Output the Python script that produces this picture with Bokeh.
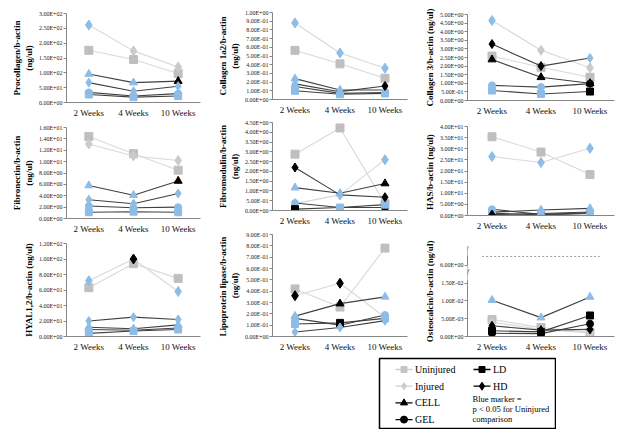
import numpy as np
from bokeh.plotting import figure
from bokeh.models import (ColumnDataSource, FactorRange, Range1d, FixedTicker,
                          CustomJSTickFormatter, Label, Spacer)
from bokeh.layouts import column, row
from bokeh.embed import file_html
from bokeh.resources import INLINE
from bokeh.core.properties import value

weeks = ["2 Weeks", "4 Weeks", "10 Weeks"]
groups = ["Uninjured", "Injured", "CELL", "GEL", "LD", "HD"]

# rows follow `groups`; sig: 0 = default marker, 1 = blue (p<0.05), 2 = dark marker
procollagen = [[176, 145, 98], [261, 174, 120], [96, 67, 72], [34, 22, 30], [27, 18, 22], [67, 38, 55]]
procollagen_sig = [[0, 0, 0], [1, 0, 0], [1, 1, 0], [1, 1, 1], [1, 1, 1], [1, 1, 1]]

collagen1a2 = [[0.565, 0.41, 0.245], [0.88, 0.535, 0.36], [0.24, 0.11, 0.11], [0.15, 0.07, 0.08], [0.10, 0.06, 0.07], [0.18, 0.09, 0.155]]
collagen1a2_sig = [[0, 0, 0], [1, 1, 1], [1, 1, 1], [1, 1, 1], [1, 1, 1], [1, 1, 0]]

collagen3 = [[2.58, 1.93, 1.35], [4.65, 2.92, 1.90], [2.38, 1.35, 1.00], [0.88, 0.78, 0.98], [0.58, 0.38, 0.52], [3.28, 2.00, 2.47]]
collagen3_sig = [[0, 0, 0], [1, 0, 0], [0, 0, 0], [1, 1, 0], [1, 1, 0], [0, 0, 1]]

fibronectin = [[14.4, 11.4, 8.5], [13.1, 11.0, 10.2], [5.8, 4.1, 6.6], [2.2, 1.9, 2.0], [1.1, 1.2, 1.1], [3.3, 2.6, 4.4]]
fibronectin_sig = [[0, 0, 0], [0, 0, 0], [1, 1, 0], [1, 1, 1], [1, 1, 1], [1, 1, 1]]

fibromodulin = [[2.88, 4.22, 0.35], [0.35, 0.80, 2.60], [1.17, 0.88, 1.38], [0.38, 0.15, 0.15], [0.07, 0.15, 0.30], [2.20, 0.80, 0.68]]
fibromodulin_sig = [[0, 0, 0], [1, 1, 1], [1, 1, 0], [1, 1, 0], [0, 1, 1], [0, 1, 0]]

has = [[35.4, 28.5, 18.4], [26.5, 23.8, 30.2], [1.5, 2.5, 3.2], [2.8, 0.5, 1.2], [1.0, 0.3, 0.9], [0.4, 0.9, 1.6]]
has_sig = [[0, 0, 0], [1, 1, 1], [1, 1, 1], [1, 1, 1], [1, 1, 1], [0, 1, 1]]

hyal = [[63, 94, 75], [72, 100, 58], [12, 10, 15], [9, 8, 11], [4, 7, 9], [20, 25, 22]]
hyal_sig = [[0, 0, 0], [1, 2, 1], [1, 1, 1], [1, 1, 1], [1, 1, 1], [1, 1, 1]]

lipoprotein = [[0.42, 0.26, 0.78], [0.36, 0.47, 0.17], [0.18, 0.29, 0.35], [0.16, 0.10, 0.19], [0.11, 0.12, 0.16], [0.04, 0.08, 0.14]]
lipoprotein_sig = [[0, 0, 0], [2, 2, 1], [1, 0, 1], [1, 0, 1], [1, 0, 1], [1, 1, 1]]

osteocalcin = [[0.0048, 0.0025, 0.0012], [0.0040, 0.0020, 0.0010], [0.0102, 0.0053, 0.0111], [0.0009, 0.0008, 0.0036], [0.0016, 0.0013, 0.0059], [0.0030, 0.0018, 0.0020]]
osteocalcin_sig = [[0, 0, 0], [0, 0, 0], [1, 1, 1], [0, 0, 0], [0, 0, 0], [0, 0, 0]]
osteocalcin_upper_ticks = [6.0]

titles = ["Procollagen/b-actin\n(ng/ul)", "Collagen 1a2/b-actin\n(ng/ul)", "Collagen 3/b-actin (ng/ul)",
          "Fibronectin/b-actin\n(ng/ul)", "Fibromodulin/b-actin\n(ng/ul)", "HAS/b-actin  (ng/ul)",
          "HYAL1,2/b-actin (ng/ul)", "Lipoprotein  lipase/b-actin\n(ng/ul)", "Osteocalcin/b-actin (ng/ul)"]
axis_max = [300, 1.0, 5.0, 16, 4.5, 40, 120, 0.9, 0.015]
axis_step = [50, 0.1, 0.5, 2, 0.5, 5, 20, 0.1, 0.005]

legend_left = ["Uninjured", "Injured", "CELL", "GEL"]
legend_right = ["LD", "HD"]
note = ["Blue marker  =", "p < 0.05  for Uninjured", "comparison"]

SERIF = "Liberation Serif"
LIGHT_LINE = "#d9d9d9"
DARK_LINE = "#404040"
BLUE = "#8dbde6"
AXIS = "#868686"
style = {
    "Uninjured": dict(marker="square", size=8, line=LIGHT_LINE, mk="#bfbfbf"),
    "Injured": dict(marker="diamond", size=10, line=LIGHT_LINE, mk="#cbcbcb"),
    "CELL": dict(marker="triangle", size=8, line=DARK_LINE, mk="#000000"),
    "GEL": dict(marker="circle", size=7, line=DARK_LINE, mk="#000000"),
    "LD": dict(marker="square", size=7, line=DARK_LINE, mk="#000000"),
    "HD": dict(marker="diamond", size=9, line=DARK_LINE, mk="#000000"),
}

FMT_CODE = """
let v = tick;
if (tick > brk) { v = up_val + (tick - up_pos) / up_scale; }
let s = v.toExponential(2).toUpperCase();
const i = s.indexOf("E");
const mant = s.slice(0, i);
const sign = s[i + 1];
let d = s.slice(i + 2);
if (d.length < 2) { d = "0" + d; }
return mant + "E" + sign + d;
"""


def panel(k, vals, sig, w, h, bl, br, bt, bb, broken=None):
    ymax = axis_max[k]
    step = axis_step[k]
    ticks = list(np.round(np.arange(0, ymax + step / 2, step), 10))
    fargs = dict(brk=1e30, up_val=0.0, up_pos=0.0, up_scale=1.0)
    top = ymax
    if broken is not None:
        top = broken["top"]
        fargs = dict(brk=broken["brk"], up_val=broken["up_val"], up_pos=broken["up_pos"],
                     up_scale=broken["up_scale"])
        ticks += [broken["up_pos"] + (t - broken["up_val"]) * broken["up_scale"] for t in osteocalcin_upper_ticks]
    p = figure(width=w, height=h, x_range=FactorRange(*weeks), y_range=Range1d(0, top),
               output_backend="svg", toolbar_location=None,
               min_border_left=bl, min_border_right=br, min_border_top=bt, min_border_bottom=bb)
    p.outline_line_color = None
    p.xgrid.visible = False
    p.ygrid.visible = False
    p.background_fill_color = "white"
    p.border_fill_color = "white"

    p.yaxis.ticker = FixedTicker(ticks=ticks)
    p.yaxis.formatter = CustomJSTickFormatter(args=fargs, code=FMT_CODE)
    p.yaxis.axis_label = titles[k]
    p.yaxis.axis_label_text_font = SERIF
    p.yaxis.axis_label_text_font_style = "bold"
    p.yaxis.axis_label_text_font_size = "9px"
    p.yaxis.axis_label_standoff = 2
    p.yaxis.axis_label_text_color = "#000000"
    p.yaxis.major_label_text_font = SERIF
    p.yaxis.major_label_text_font_size = "6px"
    p.yaxis.major_label_text_color = "#222222"
    p.yaxis.major_label_standoff = 1
    p.yaxis.major_tick_out = 3
    p.yaxis.major_tick_in = 0
    p.yaxis.minor_tick_line_color = None
    p.yaxis.minor_tick_out = 0
    p.yaxis.axis_line_color = AXIS
    p.yaxis.major_tick_line_color = AXIS

    p.xaxis.axis_label = None
    p.xaxis.major_label_text_font = SERIF
    p.xaxis.major_label_text_font_size = "9px"
    p.xaxis.major_label_text_color = "#111111"
    p.xaxis.major_label_standoff = 5
    p.xaxis.major_tick_line_color = None
    p.xaxis.major_tick_out = 0
    p.xaxis.major_tick_in = 0
    p.xaxis.minor_tick_line_color = None
    p.xaxis.minor_tick_out = 0
    p.xaxis.axis_line_color = AXIS

    for g, v, s in zip(groups, vals, sig):
        st = style[g]
        cols = [BLUE if f == 1 else ("#000000" if f == 2 else st["mk"]) for f in s]
        src = ColumnDataSource(dict(x=weeks, y=v, c=cols))
        p.line("x", "y", source=src, line_color=st["line"], line_width=1.1)
        p.scatter("x", "y", source=src, marker=st["marker"], size=st["size"],
                  fill_color="c", line_color="c")

    if broken is not None:
        dash_pos = broken["up_pos"] + (6.47 - broken["up_val"]) * broken["up_scale"]
        p.segment(x0=[0.3], y0=[dash_pos], x1=[2.7], y1=[dash_pos], line_color="#9a9a9a",
                  line_dash="2 2", line_width=1)
        for yy in (broken["brk"] + 0.0004, top - 0.0004):
            p.add_layout(Label(x=0.0, y=yy, x_units="data", y_units="data", text="/",
                               text_align="center", text_baseline="middle", level="overlay",
                               text_font=SERIF, text_font_size="13px", text_color="#333333",
                               background_fill_color="white", background_fill_alpha=1.0))
    return p


f1 = panel(0, procollagen, procollagen_sig, 205, 112, 55, 13, 5, 18)
f4 = panel(3, fibronectin, fibronectin_sig, 205, 118, 55, 13, 7, 20)
f7 = panel(6, hyal, hyal_sig, 205, 116, 56, 11, 5, 17)

f2 = panel(1, collagen1a2, collagen1a2_sig, 199, 109, 59, 5, 4, 13)
f5 = panel(4, fibromodulin, fibromodulin_sig, 199, 111, 59, 5, 5, 16)
f8 = panel(7, lipoprotein, lipoprotein_sig, 199, 126, 59, 5, 6, 17)

f3 = panel(2, collagen3, collagen3_sig, 204, 110, 55, 2, 6, 14)
f6 = panel(5, has, has_sig, 204, 120, 55, 2, 8, 23)
brk = dict(top=0.02528, brk=0.0175, up_val=6.0, up_pos=0.0200, up_scale=0.005278)
f9 = panel(8, osteocalcin, osteocalcin_sig, 204, 116, 55, 2, 8, 17, broken=brk)

# legend box (frame coordinates: x 0..176, y 0..70 with y up)
lg = figure(width=178, height=72, x_range=Range1d(0, 176), y_range=Range1d(0, 70),
            output_backend="svg", toolbar_location=None, min_border=1)
lg.axis.visible = False
lg.grid.visible = False
lg.outline_line_color = "#000000"
lg.outline_line_width = 1.5

leg_style = {
    "Uninjured": dict(marker="square", size=6, line="#cfcfcf", mk="#c4c4c4"),
    "Injured": dict(marker="diamond", size=7, line="#cfcfcf", mk="#cbcbcb"),
    "CELL": dict(marker="triangle", size=7, line="#000000", mk="#000000"),
    "GEL": dict(marker="circle", size=7, line="#000000", mk="#000000"),
    "LD": dict(marker="square", size=6, line="#000000", mk="#000000"),
    "HD": dict(marker="diamond", size=8, line="#000000", mk="#000000"),
}
row_gap = 16.7


def legend_column(names, x0):
    for i, g in enumerate(names):
        st = leg_style[g]
        yy = 59 - i * row_gap
        lg.segment(x0=[x0], y0=[yy], x1=[x0 + 17], y1=[yy], line_color=st["line"], line_width=1.3)
        lg.scatter(x=[x0 + 8.5], y=[yy], marker=st["marker"], size=st["size"],
                   fill_color=st["mk"], line_color=st["mk"])
        lg.text(x=[x0 + 19.5], y=[yy], text=[g], text_font=value(SERIF), text_font_size="10px",
                text_baseline="middle", text_align="left", text_color="#000000")


legend_column(legend_left, 16)
legend_column(legend_right, 94)
lg.text(x=[93, 93, 93], y=[30, 20, 9.5], text=note, text_font=value(SERIF), text_font_size="8.5px",
        text_baseline="middle", text_align="left", text_color="#000000")

col1 = column(f1, f4, f7)
col2 = column(f2, f5, f8)
col3 = column(f3, f6, f9)
body = column(row(col1, col2, col3), Spacer(width=10, height=3),
              row(Spacer(width=370, height=72), lg))
layout = column(Spacer(width=10, height=8), row(Spacer(width=8, height=10), body))

open("out.html", "w").write(file_html(layout, INLINE))
